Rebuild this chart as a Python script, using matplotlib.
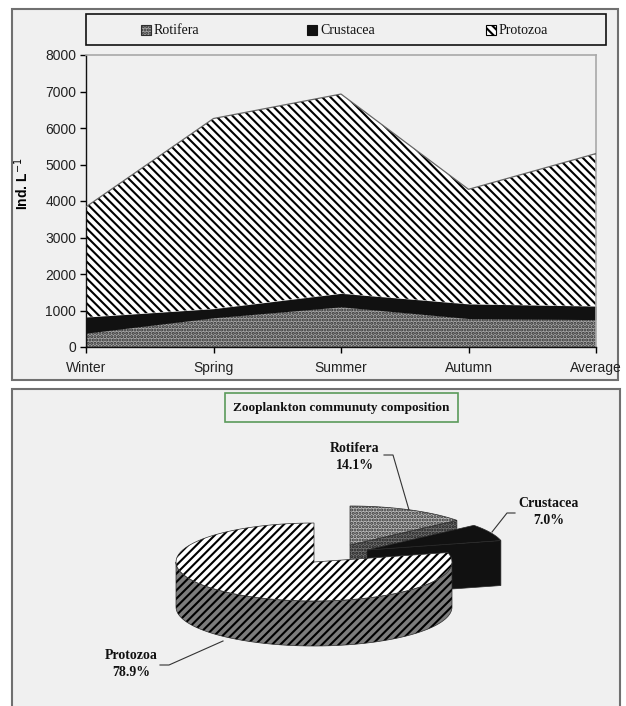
import numpy as np
import matplotlib
matplotlib.use("Agg")
import matplotlib.pyplot as plt
from matplotlib.patches import Rectangle, Polygon

# ---- data -------------------------------------------------------------
seasons = ["Winter", "Spring", "Summer", "Autumn", "Average"]
rotifera = [380, 800, 1100, 780, 750]
crustacea = [440, 250, 370, 400, 370]
protozoa = [3020, 5210, 5460, 3140, 4180]
yticks = [0, 1000, 2000, 3000, 4000, 5000, 6000, 7000, 8000]

groups = ["Rotifera", "Crustacea", "Protozoa"]
shares = [14.1, 7.0, 78.9]
pie_title = "Zooplankton communuty composition"

# ---- styling ----------------------------------------------------------
W, H = 626, 706
SANS = "Liberation Sans"
SERIF = "Liberation Serif"
PANEL = "#f0f0f0"
plt.rcParams["hatch.linewidth"] = 1.5

area_style = {
    "Rotifera": dict(facecolor="#a6a6a6", edgecolor="#2e2e2e", hatch="....."),
    "Crustacea": dict(facecolor="#111111", edgecolor="#111111", hatch=None),
    "Protozoa": dict(facecolor="white", edgecolor="black", hatch="\\\\\\\\"),
}

fig = plt.figure(figsize=(W / 100, H / 100), dpi=100)
fig.patch.set_facecolor("white")

# background layer in pixel units: panel frames and legend box
bg = fig.add_axes([0, 0, 1, 1])
bg.set_xlim(0, W)
bg.set_ylim(H, 0)
bg.axis("off")
bg.add_patch(Rectangle((12, 9), 606, 371, facecolor=PANEL, edgecolor="#707070", lw=1.5))
bg.add_patch(Rectangle((12, 389), 608, 340, facecolor=PANEL, edgecolor="#707070", lw=1.5))

# legend
bg.add_patch(Rectangle((86, 14), 520, 31, facecolor=PANEL, edgecolor="#111111", lw=1.2))
legend_x = [141, 307, 486]
for name, lx in zip(groups, legend_x):
    st = area_style[name]
    bg.add_patch(Rectangle((lx, 25), 10, 10, facecolor=st["facecolor"],
                           edgecolor=st["edgecolor"], hatch=st["hatch"], lw=0.8))
    bg.text(lx + 13, 30.5, name, family=SERIF, fontsize=10, va="center", ha="left",
            color="#111111")

# ---- stacked area chart ----------------------------------------------
ax = fig.add_axes([86 / W, 1 - 347 / H, 510 / W, 292 / H])
ax.set_facecolor(PANEL)
x = np.arange(len(seasons))
lower = np.zeros(len(seasons))
for name, vals in zip(groups, [rotifera, crustacea, protozoa]):
    upper = lower + np.asarray(vals, dtype=float)
    st = area_style[name]
    ax.fill_between(x, lower, upper, facecolor=st["facecolor"], edgecolor=st["edgecolor"],
                    hatch=st["hatch"], linewidth=0, zorder=2)
    lower = upper
ax.plot(x, lower, color="#666666", lw=0.9, zorder=3)

ax.set_xlim(0, len(seasons) - 1)
ax.set_ylim(0, 8000)
ax.set_yticks(yticks)
ax.set_yticklabels([str(v) for v in yticks])
ax.set_xticks(x)
ax.set_xticklabels(seasons)
for lab in ax.get_xticklabels() + ax.get_yticklabels():
    lab.set_family(SANS)
    lab.set_fontsize(10)
    lab.set_color("#222222")
ax.tick_params(axis="y", direction="out", length=4, width=1, pad=3)
ax.tick_params(axis="x", direction="out", length=4, width=1, pad=6)
for s in ("left", "bottom"):
    ax.spines[s].set_color("#111111")
    ax.spines[s].set_linewidth(1.0)
for s in ("top", "right"):
    ax.spines[s].set_color("#a8a8a8")
    ax.spines[s].set_linewidth(1.2)
ax.set_ylabel("Ind. L$^{-1}$", family=SANS, fontsize=10, fontweight="bold")
ax.yaxis.set_label_coords(-0.108, 0.56)

# ---- 3-D pie ------------------------------------------------------------
pa = fig.add_axes([0, 0, 1, 1])
pa.set_xlim(0, W)
pa.set_ylim(H, 0)
pa.axis("off")

# title box
pa.add_patch(Rectangle((225, 393), 233, 29, facecolor=PANEL, edgecolor="#5b9a5b", lw=1.2))
pa.text(341.5, 407.5, pie_title, family=SERIF, fontsize=9.5, fontweight="bold",
        ha="center", va="center", color="#111111")

CX, CY, RX, RY, DEPTH = 314, 562, 138, 39, 45
explode = [(36, -17), (53, -12), (0, 0)]
pie_style = {
    "Rotifera": dict(top=("#bababa", "#333333", "....."), side=("#747474", "#1e1e1e", ".....")),
    "Crustacea": dict(top=("#111111", "#111111", None), side=("#111111", "#111111", None)),
    "Protozoa": dict(top=("white", "black", "////"), side=("#7c7c7c", "black", "////")),
}

bounds = np.radians(np.concatenate([[0], np.cumsum(shares)]) / 100 * 360)


def arc(cx, cy, a, b, z=0.0, n=80):
    t = np.linspace(a, b, n)
    return np.column_stack([cx + RX * np.sin(t), cy - RY * np.cos(t) + z])


def face(pts, spec):
    fc, ec, hatch = spec
    pa.add_patch(Polygon(pts, closed=True, facecolor=fc, edgecolor=ec, hatch=hatch, lw=0))
    pa.add_patch(Polygon(pts, closed=True, fill=False, edgecolor="#2a2a2a", lw=0.5))


for i, name in enumerate(groups):
    t1, t2 = bounds[i], bounds[i + 1]
    cx, cy = CX + explode[i][0], CY + explode[i][1]
    st = pie_style[name]
    apex = np.array([[cx, cy]])
    # radial cut faces turned toward the viewer
    for t, visible in ((t1, np.sin(t1) < -1e-6), (t2, np.sin(t2) > 1e-6)):
        if visible:
            e = arc(cx, cy, t, t, n=1)[0]
            face(np.array([[cx, cy], e, e + [0, DEPTH], [cx, cy + DEPTH]]), st["side"])
    # front part of the outer wall
    a, b = max(t1, np.pi / 2), min(t2, 3 * np.pi / 2)
    if a < b:
        top = arc(cx, cy, a, b)
        bot = arc(cx, cy, a, b, z=DEPTH)[::-1]
        face(np.vstack([top, bot]), st["side"])
    # top face
    face(np.vstack([apex, arc(cx, cy, t1, t2)]), st["top"])

# data labels with leader lines
labels = [f"{g}\n{s:.1f}%" for g, s in zip(groups, shares)]
label_pos = [(355, 457), (549, 512), (131, 664)]
leaders = [
    [(384, 455), (393, 455), (409, 510)],
    [(515, 513), (507, 513), (492, 532)],
    [(160, 665), (169, 665), (223, 641)],
]
for lab, (lx, ly), ld in zip(labels, label_pos, leaders):
    pa.text(lx, ly, lab, family=SERIF, fontsize=10, fontweight="bold", ha="center",
            va="center", linespacing=1.45, color="#111111")
    ld = np.array(ld)
    pa.plot(ld[:, 0], ld[:, 1], color="#333333", lw=0.8)

fig.savefig("out.png", dpi=100, facecolor="white")
